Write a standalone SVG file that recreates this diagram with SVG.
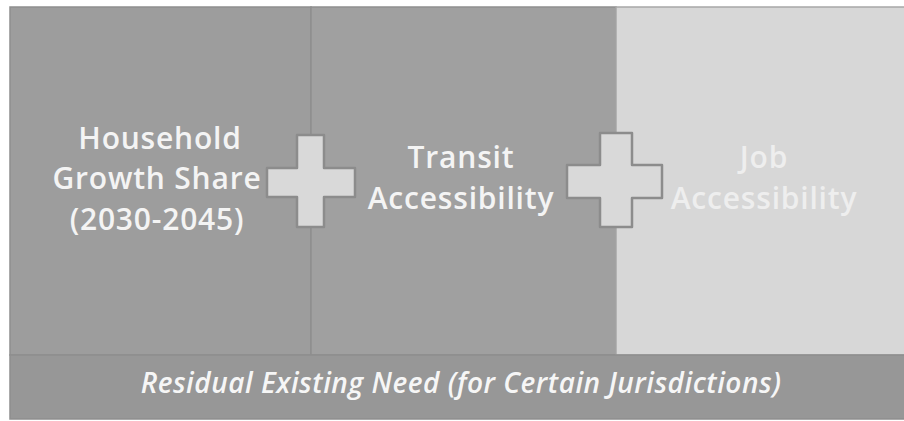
<svg xmlns="http://www.w3.org/2000/svg" width="904" height="421" viewBox="0 0 904 421">
<defs>
<style>
.lbl{font-family:"Open Sans","Liberation Sans",sans-serif;font-weight:600;font-size:30px;letter-spacing:0.8px;fill:#f4f4f4;text-anchor:middle}
.job{fill:#eeeeee}
.bot{font-family:"Open Sans","Liberation Sans",sans-serif;font-weight:600;font-style:italic;font-size:28px;letter-spacing:0.5px;fill:#f6f6f6;text-anchor:middle}
.cross{fill:#d9d9d9;stroke:#8c8c8c;stroke-width:2.5;stroke-linejoin:round}
</style>
</defs>
<rect x="0" y="0" width="904" height="421" fill="#ffffff"/>
<g id="household">
<rect x="10" y="7" width="301" height="348" fill="#9d9d9d" stroke="#8e8e8e" stroke-width="1.5"/>
<text class="lbl" x="160" y="149">Household</text>
<text class="lbl" x="157" y="189">Growth Share</text>
<text class="lbl" x="157" y="230">(2030-2045)</text>
</g>
<g id="transit">
<rect x="311" y="7" width="305" height="348" fill="#a0a0a0" stroke="#8e8e8e" stroke-width="1.5"/>
<text class="lbl" x="461" y="168">Transit</text>
<text class="lbl" x="461" y="209">Accessibility</text>
</g>
<g id="job">
<rect x="616" y="7" width="290" height="348" fill="#d7d7d7" stroke="#a8a8a8" stroke-width="1.5"/>
<text class="lbl job" x="764" y="168">Job</text>
<text class="lbl job" x="764" y="209">Accessibility</text>
</g>
<g id="residual">
<rect x="10" y="355" width="896" height="64" fill="#979797" stroke="#8e8e8e" stroke-width="1.5"/>
<text class="bot" x="461" y="393">Residual Existing Need  (for Certain Jurisdictions)</text>
</g>
<g id="connectors">
<path class="cross" d="M297 135 H324 V168 H355 V197 H324 V227 H297 V197 H267 V168 H297 Z"/>
<path class="cross" d="M600 133 H632 V165 H662 V198 H632 V227 H600 V198 H567 V165 H600 Z"/>
</g>
</svg>
